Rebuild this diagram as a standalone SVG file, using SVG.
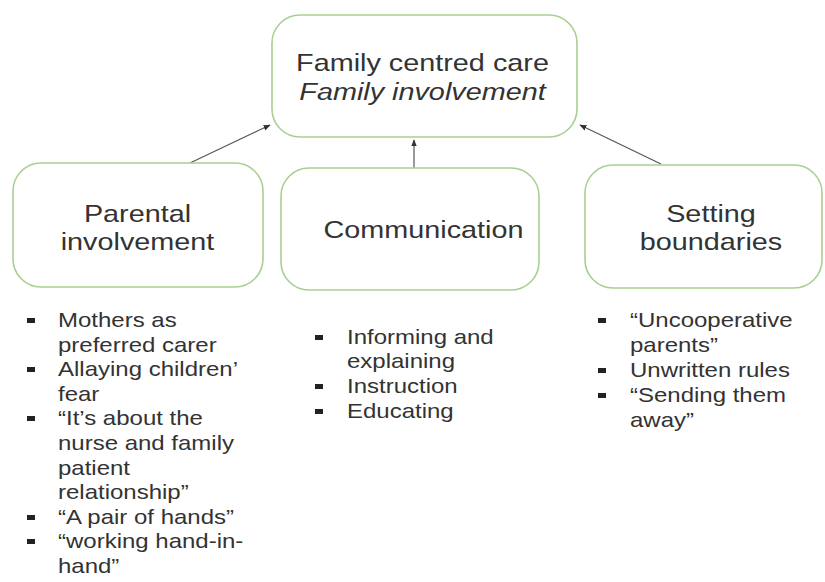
<svg xmlns="http://www.w3.org/2000/svg" width="825" height="582" viewBox="0 0 825 582">
<defs>
<marker id="ah" viewBox="0 0 10 10" refX="9" refY="5" markerWidth="6" markerHeight="6" orient="auto-start-reverse">
<path d="M0,1 L10,5 L0,9 z" fill="#333"/>
</marker>
<style>
.box{fill:#fff;stroke:#a9cf92;stroke-width:1.6}
.t{font-family:"Liberation Sans",Arial,sans-serif;font-size:24px;fill:#333;text-anchor:middle}
.b{font-family:"Liberation Sans",Arial,sans-serif;font-size:20px;fill:#333}
.sq{fill:#222}
.c{stroke:#555;stroke-width:1.2;fill:none}
</style>
</defs>
<rect width="825" height="582" fill="#fff"/>
<g id="connectors">
<line class="c" x1="190" y1="163" x2="270" y2="125" marker-end="url(#ah)"/>
<line class="c" x1="414" y1="168" x2="414" y2="140" marker-end="url(#ah)"/>
<line class="c" x1="661" y1="164" x2="580" y2="125" marker-end="url(#ah)"/>
</g>
<g id="top">
<rect class="box" x="272" y="15" width="305" height="122" rx="28"/>
<g transform="matrix(1.2,0,0,1,-84.5,0)">
<text class="t" x="422.5" y="71">Family centred care</text>
<text class="t" x="422.5" y="100" font-style="italic">Family involvement</text>
</g>
</g>
<g id="parental">
<rect class="box" x="13" y="163" width="250" height="124" rx="28"/>
<g transform="matrix(1.2,0,0,1,-27.5,0)">
<text class="t" x="137.5" y="222">Parental</text>
<text class="t" x="137.5" y="250">involvement</text>
</g>
</g>
<g id="communication">
<rect class="box" x="281" y="168" width="258" height="122" rx="28"/>
<g transform="matrix(1.2,0,0,1,-84.7,0)">
<text class="t" x="423.5" y="238">Communication</text>
</g>
</g>
<g id="boundaries">
<rect class="box" x="585" y="165" width="237" height="123" rx="28"/>
<g transform="matrix(1.2,0,0,1,-142.2,0)">
<text class="t" x="711" y="222">Setting</text>
<text class="t" x="711" y="250">boundaries</text>
</g>
</g>
<g id="list-parental">
<rect class="sq" x="27" y="318" width="8" height="5"/>
<rect class="sq" x="27" y="367" width="8" height="5"/>
<rect class="sq" x="27" y="416" width="8" height="5"/>
<rect class="sq" x="27" y="515" width="8" height="5"/>
<rect class="sq" x="27" y="539" width="8" height="5"/>
<g transform="matrix(1.2,0,0,1,-11.6,0)">
<text class="b" x="58" y="327">Mothers as</text>
<text class="b" x="58" y="352">preferred carer</text>
<text class="b" x="58" y="376">Allaying children’</text>
<text class="b" x="58" y="401">fear</text>
<text class="b" x="58" y="425">“It’s about the</text>
<text class="b" x="58" y="450">nurse and family</text>
<text class="b" x="58" y="475">patient</text>
<text class="b" x="58" y="499">relationship”</text>
<text class="b" x="58" y="524">“A pair of hands”</text>
<text class="b" x="58" y="548">“working hand-in-</text>
<text class="b" x="58" y="573">hand”</text>
</g>
</g>
<g id="list-communication">
<rect class="sq" x="315" y="335" width="8" height="5"/>
<rect class="sq" x="315" y="384" width="8" height="5"/>
<rect class="sq" x="315" y="409" width="8" height="5"/>
<g transform="matrix(1.2,0,0,1,-69.4,0)">
<text class="b" x="347" y="344">Informing and</text>
<text class="b" x="347" y="368.5">explaining</text>
<text class="b" x="347" y="393">Instruction</text>
<text class="b" x="347" y="418">Educating</text>
</g>
</g>
<g id="list-boundaries">
<rect class="sq" x="598" y="318" width="8" height="5"/>
<rect class="sq" x="598" y="368" width="8" height="5"/>
<rect class="sq" x="598" y="393" width="8" height="5"/>
<g transform="matrix(1.2,0,0,1,-126,0)">
<text class="b" x="630" y="327">“Uncooperative</text>
<text class="b" x="630" y="352">parents”</text>
<text class="b" x="630" y="377">Unwritten rules</text>
<text class="b" x="630" y="402">“Sending them</text>
<text class="b" x="630" y="427">away”</text>
</g>
</g>
</svg>
